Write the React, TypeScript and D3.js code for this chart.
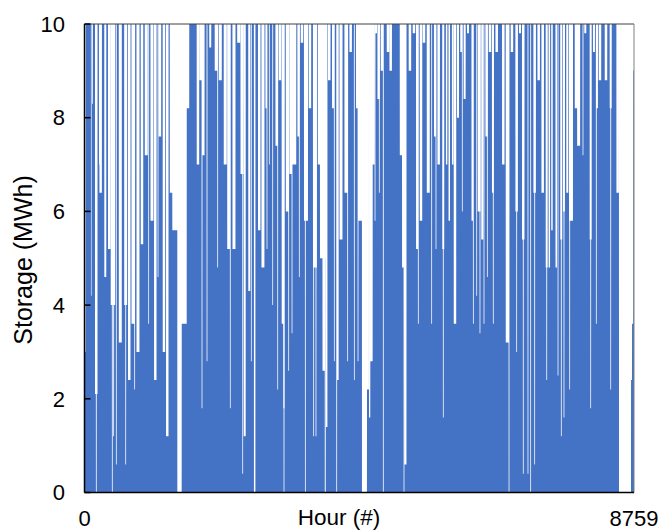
import React from "react";
import * as d3 from "d3";

// Storage dips: hour of the dip, lowest storage (MWh), duration (hours).
// Outside these dips the storage sits at its 10 MWh ceiling.
const dipHour = [
  19, 108, 128, 188, 188, 239, 258, 332, 395, 443, 454, 465, 507, 571, 657, 657, 714, 773, 800, 853,
  917, 985, 1023, 1076, 1129, 1172, 1203, 1267, 1320, 1384,
  1440, 1515, 1590, 1650, 1809, 1852, 1873, 1894, 1953, 2005, 2096, 2123, 2165, 2244, 2299, 2324,
  2383, 2458, 2511, 2522, 2554, 2627, 2659, 2713, 2786, 2845, 2900, 2909,
  2946, 3000, 3064, 3080, 3116, 3159, 3180, 3180, 3233, 3255, 3287, 3308, 3344, 3414, 3424, 3467,
  3520, 3531, 3594, 3653, 3674, 3690, 3743, 3802, 3818, 3838, 3861, 3902, 3966, 3982, 4020, 4036,
  4089, 4168, 4195, 4243, 4301, 4348, 4360, 4391,
  4463, 4519, 4546, 4575, 4603, 4631, 4647, 4690, 4699, 4742, 4763, 4838, 4881, 5050, 5082, 5093,
  5117, 5188, 5252, 5305, 5321, 5364, 5412, 5480, 5534, 5587, 5603, 5646, 5719, 5719, 5773, 5815,
  5869, 5906,
  5954, 6006, 6022, 6060, 6113, 6185, 6198, 6252, 6293, 6304, 6341, 6368, 6411, 6421, 6464, 6511,
  6516, 6571, 6676, 6739, 6767, 6814, 6889, 6889, 6942, 6994, 6994, 7069, 7112, 7176, 7176, 7240,
  7304, 7368, 7368, 7410,
  7452, 7520, 7548, 7600, 7600, 7643, 7643, 7696, 7734, 7755, 7835, 7877, 7946, 7983, 8069, 8069,
  8121, 8158, 8169, 8217, 8313, 8388, 8388, 8499, 8616, 8719, 8738, 8754,
];
const dipMin = [
  3.0, 4.2, 8.3, 0, 2.1, 7.0, 6.4, 4.6, 5.2, 0, 4.0, 1.2, 0.6, 3.2, 4.0, 0.6, 2.4, 3.6, 2.2, 3.0,
  5.3, 7.2, 3.6, 5.8, 2.4, 4.6, 7.6, 3.0, 1.2, 6.4,
  5.6, 0, 3.6, 8.2, 7.0, 8.8, 1.8, 7.2, 2.8, 9.5, 9.0, 4.8, 8.8, 7.0, 5.2, 1.8,
  5.2, 9.6, 6.8, 0.4, 1.2, 4.3, 2.8, 0, 5.6, 4.8, 8.2, 5.2,
  7.0, 4.0, 7.4, 2.2, 8.8, 3.6, 0, 1.8, 6.0, 2.6, 6.8, 3.4, 7.0, 7.6, 4.6, 9.6,
  0, 5.8, 8.2, 1.2, 4.8, 1.2, 7.0, 5.0, 2.6, 0, 1.4, 8.8, 8.2, 2.8, 0, 2.4,
  5.4, 6.4, 2.8, 9.4, 2.4, 8.2, 2.8, 5.8,
  0, 2.2, 1.6, 2.8, 7.0, 5.8, 9.8, 8.4, 6.4, 9.0, 0, 9.4, 9.0, 7.2, 4.8, 0,
  0.6, 9.0, 9.8, 5.2, 3.6, 5.8, 9.6, 6.4, 3.6, 7.6, 5.2, 7.0, 1.6, 5.2, 7.0, 5.8,
  7.0, 3.6,
  8.0, 9.4, 6.0, 8.4, 9.8, 5.8, 3.6, 4.2, 6.0, 3.4, 5.4, 3.6, 7.6, 4.6, 9.4, 6.4,
  3.6, 9.4, 7.0, 3.2, 0, 9.4, 6.0, 3.0, 9.8, 5.4, 0.4, 0.4, 0, 6.4, 0.6, 8.8,
  6.4, 4.8, 2.4, 4.8,
  5.6, 4.8, 2.5, 5.4, 1.2, 6.0, 1.6, 6.4, 2.2, 5.8, 8.2, 7.4, 7.2, 9.8, 5.4, 1.8,
  9.4, 3.6, 8.2, 8.8, 8.8, 8.2, 2.2, 6.4, 0, 2.4, 3.6, 9.0,
];
const dipSpan = [
  10, 10, 13, 13, 40, 16, 40, 32, 40, 13, 72, 13, 13, 48, 48, 13, 40, 48, 13, 48,
  40, 48, 13, 48, 40, 13, 40, 40, 40, 48,
  80, 70, 80, 40, 40, 40, 13, 40, 13, 32, 40, 13, 48, 48, 48, 13,
  48, 48, 48, 13, 32, 32, 13, 24, 40, 48, 32, 13,
  13, 13, 40, 13, 40, 32, 13, 24, 48, 13, 40, 13, 64, 40, 13, 40,
  13, 64, 40, 13, 64, 13, 48, 96, 48, 16, 24, 40, 40, 13, 13, 32,
  48, 48, 13, 40, 13, 40, 13, 64,
  80, 32, 20, 38, 40, 13, 32, 40, 13, 40, 13, 40, 40, 48, 40, 13,
  32, 40, 40, 40, 13, 40, 40, 48, 13, 32, 13, 40, 13, 32, 24, 24,
  24, 40,
  32, 32, 13, 32, 32, 32, 13, 13, 48, 13, 32, 13, 40, 13, 40, 32,
  13, 40, 40, 48, 13, 40, 40, 13, 32, 40, 13, 13, 13, 40, 13, 40,
  40, 32, 13, 24,
  24, 24, 13, 32, 13, 32, 13, 32, 13, 64, 40, 48, 13, 32, 32, 13,
  32, 13, 32, 40, 40, 32, 13, 40, 192, 18, 20, 14,
];

const yTicks = [0, 2, 4, 6, 8, 10];
const xTickLabels = ["0", "8759"];
const xDomain = [0, 8759];

// hourly storage table built from the dips
const hours = d3.range(0, 8760);
const storage = hours.map((h) => {
  let v = 10;
  for (let i = 0; i < dipHour.length; i++) {
    const half = dipSpan[i] / 2;
    if (h >= dipHour[i] - half && h < dipHour[i] + half) v = Math.min(v, dipMin[i]);
  }
  return v;
});

export default function App() {
  const W = 660;
  const H = 530;
  const left = 84.5;
  const right = 634;
  const top = 24;
  const bottom = 492.5;
  const x = d3.scaleLinear().domain(xDomain).range([left, right]);
  const y = d3.scaleLinear().domain([0, 10]).range([bottom, top]);
  const area = d3
    .area<number>()
    .x((_, i) => x(hours[i]))
    .y0(y(0))
    .y1((d) => y(d));
  const font = "'Liberation Sans', Arial, sans-serif";
  return (
    <svg
      width={W}
      height={H}
      style={{ position: "absolute", left: 0, top: 0, background: "#fff" }}
      fontFamily={font}
    >
      <path d={area(storage) || ""} fill="#4472C4" />
      {/* frame */}
      <line x1={left} x2={right} y1={top} y2={top} stroke="#404040" strokeWidth={1} />
      <line x1={right} x2={right} y1={top} y2={bottom} stroke="#808080" strokeWidth={1} />
      <line x1={left} x2={left} y1={top} y2={bottom} stroke="#000" strokeWidth={1.5} />
      <line x1={left} x2={right} y1={bottom} y2={bottom} stroke="#000" strokeWidth={1.5} />
      {yTicks.map((t) => (
        <g key={t}>
          <line x1={left} x2={left + 6} y1={y(t)} y2={y(t)} stroke="#000" strokeWidth={1.5} />
          <text x={65} y={y(t)} dy="0.35em" textAnchor="end" fontSize={22} fill="#000">
            {t}
          </text>
        </g>
      ))}
      {xTickLabels.map((l) => (
        <text key={l} x={x(+l)} y={526} textAnchor="middle" fontSize={22} fill="#000">
          {l}
        </text>
      ))}
      <text x={339} y={525} textAnchor="middle" fontSize={22.5} fill="#000">
        Hour (#)
      </text>
      <text
        transform={`translate(32,260) rotate(-90)`}
        textAnchor="middle"
        fontSize={25}
        fill="#000"
      >
        Storage (MWh)
      </text>
    </svg>
  );
}
